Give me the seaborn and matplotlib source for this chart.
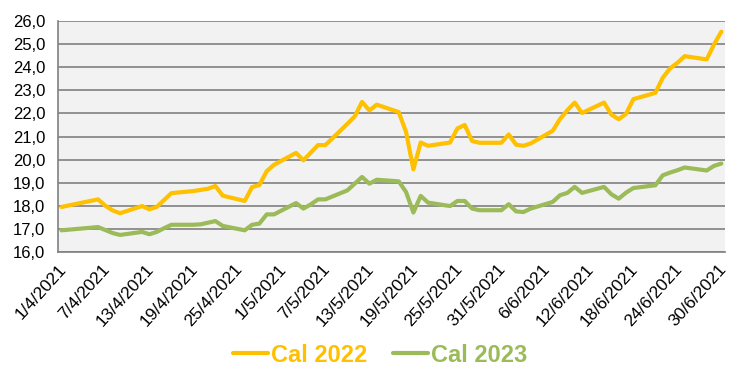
import matplotlib
matplotlib.use("Agg")
import matplotlib.pyplot as plt
import matplotlib.ticker as mticker
import seaborn as sns
import pandas as pd

# trading days, April - June 2021
dates = [
    "2021-04-01", "2021-04-06", "2021-04-07", "2021-04-08", "2021-04-09",
    "2021-04-12", "2021-04-13", "2021-04-14", "2021-04-15", "2021-04-16",
    "2021-04-19", "2021-04-20", "2021-04-21", "2021-04-22", "2021-04-23",
    "2021-04-26", "2021-04-27", "2021-04-28", "2021-04-29", "2021-04-30",
    "2021-05-03", "2021-05-04", "2021-05-05", "2021-05-06", "2021-05-07",
    "2021-05-10", "2021-05-11", "2021-05-12", "2021-05-13", "2021-05-14",
    "2021-05-17", "2021-05-18", "2021-05-19", "2021-05-20", "2021-05-21",
    "2021-05-24", "2021-05-25", "2021-05-26", "2021-05-27", "2021-05-28",
    "2021-05-31", "2021-06-01", "2021-06-02", "2021-06-03", "2021-06-04",
    "2021-06-07", "2021-06-08", "2021-06-09", "2021-06-10", "2021-06-11",
    "2021-06-14", "2021-06-15", "2021-06-16", "2021-06-17", "2021-06-18",
    "2021-06-21", "2021-06-22", "2021-06-23", "2021-06-24", "2021-06-25",
    "2021-06-28", "2021-06-29", "2021-06-30",
]

cal_2022 = [
    17.95, 18.28, 18.00, 17.80, 17.68,
    17.99, 17.85, 17.95, 18.25, 18.55,
    18.64, 18.69, 18.74, 18.86, 18.44,
    18.21, 18.81, 18.90, 19.50, 19.78,
    20.29, 19.97, 20.30, 20.63, 20.63,
    21.55, 21.87, 22.50, 22.13, 22.38,
    22.06, 21.20, 19.58, 20.74, 20.60,
    20.74, 21.35, 21.50, 20.81, 20.73,
    20.73, 21.09, 20.65, 20.60, 20.70,
    21.25, 21.76, 22.14, 22.47, 22.02,
    22.47, 21.95, 21.75, 21.98, 22.62,
    22.89, 23.54, 23.95, 24.19, 24.48,
    24.34, 24.99, 25.54,
]

cal_2023 = [
    16.94, 17.08, 16.95, 16.82, 16.74,
    16.87, 16.77, 16.87, 17.03, 17.18,
    17.18, 17.20, 17.27, 17.34, 17.13,
    16.94, 17.18, 17.23, 17.63, 17.63,
    18.12, 17.88, 18.06, 18.28, 18.28,
    18.67, 18.96, 19.25, 18.96, 19.13,
    19.06, 18.60, 17.71, 18.43, 18.14,
    17.99, 18.21, 18.21, 17.88, 17.81,
    17.81, 18.07, 17.76, 17.73, 17.88,
    18.17, 18.46, 18.56, 18.82, 18.56,
    18.82, 18.50, 18.31, 18.57, 18.77,
    18.89, 19.32, 19.44, 19.54, 19.66,
    19.53, 19.73, 19.83,
]

series_names = ["Cal 2022", "Cal 2023"]
colors = {"Cal 2022": "#FFC000", "Cal 2023": "#9BBB59"}

df = pd.DataFrame({
    "date": pd.to_datetime(dates),
    "Cal 2022": cal_2022,
    "Cal 2023": cal_2023,
})
long_df = df.melt(id_vars="date", var_name="series", value_name="price")

sns.set_style("whitegrid", {
    "axes.facecolor": "#F2F2F2",
    "grid.color": "#808080",
    "axes.edgecolor": "#808080",
})
plt.rcParams["font.family"] = ["Liberation Sans", "DejaVu Sans"]

fig = plt.figure(figsize=(7.44, 3.83), dpi=100)
ax = fig.add_axes([0.0776, 0.342, 0.8969, 0.603])

sns.lineplot(data=long_df, x="date", y="price", hue="series",
             hue_order=series_names, palette=colors, linewidth=3,
             legend=False, ax=ax)

# y axis
ax.set_ylim(16, 26)
ax.yaxis.set_major_locator(mticker.MultipleLocator(1))
ax.yaxis.set_major_formatter(
    mticker.FuncFormatter(lambda v, p: f"{v:.1f}".replace(".", ",")))
ax.grid(axis="y", color="#808080", linewidth=1.2)
ax.grid(axis="x", visible=False)

# x axis: Excel style, points centred in day slots
half_day = pd.Timedelta(hours=12)
start = pd.Timestamp("2021-04-01")
end = pd.Timestamp("2021-06-30")
ax.set_xlim(start - half_day, end + half_day)
tick_days = pd.date_range(start, end, freq="6D")
ax.set_xticks(tick_days - half_day)
ax.set_xticklabels([f"{d.day}/{d.month}/{d.year}" for d in tick_days],
                   rotation=48, ha="right", rotation_mode="anchor")

ax.tick_params(axis="both", which="major", colors="#000000",
               length=5, width=1, direction="out")
ax.tick_params(axis="y", labelsize=12, pad=4)
ax.tick_params(axis="x", labelsize=12.5, pad=2)
ax.tick_params(axis="both", color="#808080")
ax.set_xlabel("")
ax.set_ylabel("")

for side in ["top", "right"]:
    ax.spines[side].set_visible(False)
for side in ["left", "bottom"]:
    ax.spines[side].set_color("#808080")
    ax.spines[side].set_linewidth(1.2)

# legend
handles = [plt.Line2D([], [], color=colors[s], linewidth=3) for s in series_names]
leg = fig.legend(handles, series_names, loc="center",
                 bbox_to_anchor=(380 / 744, 1 - 355 / 383), ncol=2,
                 frameon=False, handlelength=1.5, handletextpad=0.1,
                 columnspacing=1.1, prop={"size": 17, "weight": "bold"})
for text, s in zip(leg.get_texts(), series_names):
    text.set_color(colors[s])

fig.savefig("out.png", dpi=100)
plt.close(fig)
